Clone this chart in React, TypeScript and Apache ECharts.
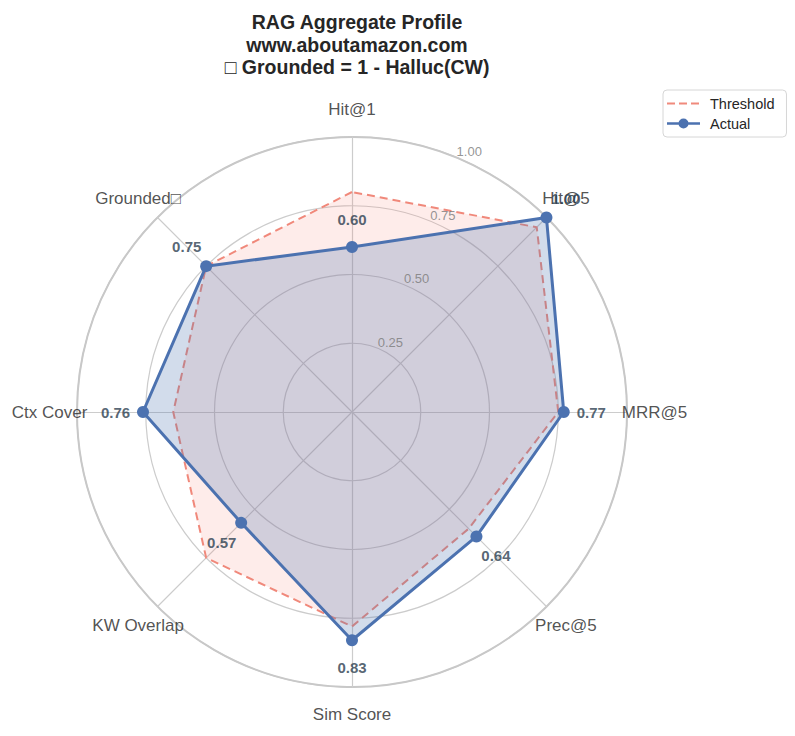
import React, { useEffect, useRef } from "react";
import * as echarts from "echarts";

const categories = ["Hit@1", "Hit@5", "MRR@5", "Prec@5", "Sim Score", "KW Overlap", "Ctx Cover", "Grounded\u25A1"];
const actualValues = [0.6, 1.0, 0.77, 0.64, 0.83, 0.57, 0.76, 0.75];
const thresholdValues = [0.8, 0.95, 0.75, 0.6, 0.78, 0.75, 0.65, 0.75];
const ringTicks = [0.25, 0.5, 0.75, 1.0];
const titleLines = ["RAG Aggregate Profile", "www.aboutamazon.com", "\u25A1 Grounded = 1 - Halluc(CW)"];

const FONT = "Liberation Sans, Arial, sans-serif";
const CENTER = [352, 412];
const RADIUS = 275;

export default function App() {
  const ref = useRef<HTMLDivElement>(null);
  useEffect(() => {
    document.body.style.margin = "0";
    if (!ref.current) return;
    const chart = echarts.init(ref.current, undefined, { renderer: "svg" });
    // radar goes counter-clockwise: reorder to draw clockwise
    const ccwOrder = categories.map((_, i) => (categories.length - i) % categories.length);
    const reorder = (arr: number[]) => ccwOrder.map((i) => arr[i]);
    const step = 360 / categories.length;

    const dashedIcon =
      "path://M0,0h0.01v0.01h-0.01z M37.99,11.99h0.01v0.01h-0.01z M0,5h8v2h-8z M12,5h8v2h-8z M24,5h8v2h-8z";
    const markerIcon =
      "path://M0,0h0.01v0.01h-0.01z M37.99,11.99h0.01v0.01h-0.01z M0,4.8h33v2.4h-33z M11.5,6a5,5 0 1,1 10,0a5,5 0 1,1 -10,0z";

    const option: any = {
      animation: false,
      backgroundColor: "#ffffff",
      textStyle: { fontFamily: FONT },
      title: {
        text: titleLines.join("\n"),
        left: 352,
        textAlign: "center",
        top: 6,
        textStyle: { fontFamily: FONT, fontSize: 19.5, fontWeight: "bold", color: "#262626", lineHeight: 22.5 },
      },
      legend: {
        left: 663,
        top: 90,
        orient: "vertical",
        padding: [6, 12, 6, 4],
        itemGap: 5,
        itemWidth: 38,
        itemHeight: 12,
        borderColor: "#d6d6d6",
        borderWidth: 1,
        borderRadius: 4,
        itemStyle: { borderWidth: 0 },
        textStyle: { fontFamily: FONT, fontSize: 14.5, color: "#262626" },
        data: [
          { name: "Threshold", icon: dashedIcon, itemStyle: { color: "#f08a7c", borderWidth: 0 } },
          { name: "Actual", icon: markerIcon, itemStyle: { color: "#4c72b0", borderWidth: 0 } },
        ],
      },
      radar: {
        center: CENTER,
        radius: RADIUS,
        startAngle: 90,
        shape: "circle",
        splitNumber: 4,
        indicator: ccwOrder.map((i) => ({ name: categories[i], min: 0, max: 1 })),
        axisName: { show: false },
        splitArea: { show: false },
        splitLine: { lineStyle: { color: "#cccccc", width: 1.2 } },
        axisLine: { lineStyle: { color: "#cccccc", width: 1.2 } },
        axisTick: { show: false },
        axisLabel: { show: false },
      },
      polar: { center: CENTER, radius: RADIUS },
      angleAxis: {
        type: "value",
        min: 0,
        max: 360,
        startAngle: 90,
        clockwise: true,
        axisLine: { show: true, lineStyle: { color: "#c8c8c8", width: 2 } },
        axisTick: { show: false },
        axisLabel: { show: false },
        splitLine: { show: false },
      },
      radiusAxis: {
        type: "value",
        min: 0,
        max: 1,
        axisLine: { show: false },
        axisTick: { show: false },
        axisLabel: { show: false },
        splitLine: { show: false },
      },
      series: [
        {
          type: "radar",
          name: "Threshold",
          symbol: "none",
          itemStyle: { color: "#f08a7c" },
          lineStyle: { color: "#f08a7c", width: 2, type: [8, 5] },
          areaStyle: { color: "#fa8072", opacity: 0.15 },
          data: [{ name: "Threshold", value: reorder(thresholdValues) }],
          z: 2,
        },
        {
          type: "radar",
          name: "Actual",
          symbol: "circle",
          symbolSize: 12,
          itemStyle: { color: "#4c72b0" },
          lineStyle: { color: "#4c72b0", width: 3 },
          areaStyle: { color: "#4c72b0", opacity: 0.25 },
          data: [{ name: "Actual", value: reorder(actualValues) }],
          z: 3,
        },
        {
          type: "scatter",
          coordinateSystem: "polar",
          silent: true,
          clip: false,
          symbolSize: 1,
          itemStyle: { color: "rgba(0,0,0,0)" },
          label: {
            show: true,
            position: "inside",
            formatter: "{b}",
            fontFamily: FONT,
            fontSize: 13,
            color: "#7a7a7a",
            offset: [12, -6],
          },
          data: ringTicks.map((t) => ({ name: t.toFixed(2), value: [t, step / 2] })),
          z: 4,
        },
        {
          type: "scatter",
          coordinateSystem: "polar",
          silent: true,
          clip: false,
          symbolSize: 1,
          itemStyle: { color: "rgba(0,0,0,0)" },
          label: {
            show: true,
            position: "inside",
            formatter: "{b}",
            fontFamily: FONT,
            fontSize: 17,
            color: "#262626",
          },
          data: categories.map((c, i) => ({ name: c, value: [1.1, i * step] })),
          z: 5,
        },
        {
          type: "scatter",
          coordinateSystem: "polar",
          silent: true,
          clip: false,
          symbolSize: 1,
          itemStyle: { color: "rgba(0,0,0,0)" },
          label: {
            show: true,
            position: "inside",
            formatter: "{b}",
            fontFamily: FONT,
            fontSize: 15,
            fontWeight: "bold",
            color: "#2c3e50",
          },
          data: actualValues.map((v, i) => ({ name: v.toFixed(2), value: [v + 0.1, i * step] })),
          z: 6,
        },
      ],
    };
    chart.setOption(option);
    return () => chart.dispose();
  }, []);
  return <div ref={ref} style={{ width: 795, height: 736 }} />;
}
